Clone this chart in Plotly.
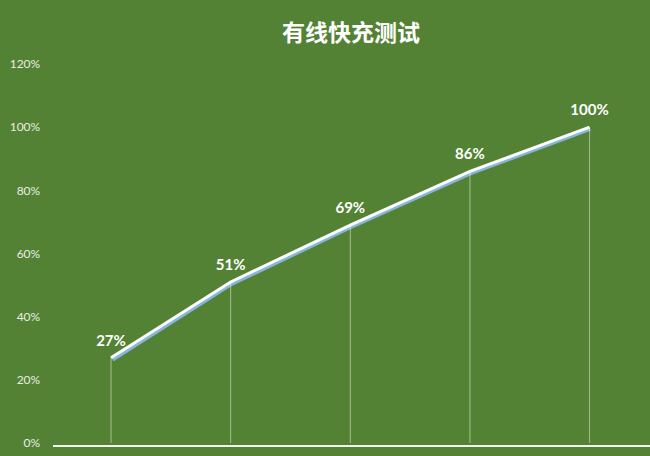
"""Wired fast-charge test: battery level line chart"""

import plotly.graph_objects as go

# data
steps = ["1", "2", "3", "4", "5"]
charge = [0.27, 0.51, 0.69, 0.86, 1.00]
labels = ["27%", "51%", "69%", "86%", "100%"]

bg = "#548235"
x_range = [-0.5, 4.5]

fig = go.Figure()

# soft blue shadow under the line, on its own axes shifted a little right/down
fig.add_trace(go.Scatter(
    x=steps, y=charge, mode="lines",
    line=dict(color="#86b6dc", width=3.5),
    hoverinfo="skip", showlegend=False,
))

# main white line with drop lines and labels, drawn on top
fig.add_trace(go.Scatter(
    x=steps, y=charge, mode="lines+markers+text",
    line=dict(color="white", width=3),
    marker=dict(size=12, color="rgba(0,0,0,0)"),
    text=labels, textposition="top center",
    textfont=dict(family="Lato, Noto Sans", size=15, color="white", weight="bold"),
    error_y=dict(type="data", symmetric=False, array=[0] * len(charge),
                 arrayminus=charge, width=0, thickness=1,
                 color="rgba(235,240,225,0.55)"),
    xaxis="x2", yaxis="y2", showlegend=False,
))

fig.update_layout(
    width=650, height=456,
    paper_bgcolor=bg, plot_bgcolor="rgba(0,0,0,0)",
    margin=dict(l=50, r=0, t=64, b=11),
    title=dict(text="<b>有线快充测试</b>", x=0.54, xanchor="center", y=0.928, yanchor="middle",
               font=dict(family="Noto Sans CJK SC", size=23, color="white")),
    xaxis=dict(domain=[0.005, 1], range=x_range, showticklabels=False, showgrid=False,
               zeroline=False, showline=True, linecolor="#f2f2f2", linewidth=2, ticks=""),
    yaxis=dict(domain=[0, 0.995], range=[0, 1.2], visible=False),
    xaxis2=dict(domain=[0.002, 0.999], range=x_range, anchor="y2", visible=False),
    yaxis2=dict(domain=[0.005, 1], range=[0, 1.2], anchor="x2", side="left",
                dtick=0.2, tickformat=".0%",
                showgrid=False, zeroline=False, showline=False,
                ticklabelstandoff=10,
                tickfont=dict(family="Lato, Noto Sans", size=12, color="#e8ede2")),
)

fig.write_html("out.html", config={"displayModeBar": False},
               post_script="document.body.style.margin='0';")
